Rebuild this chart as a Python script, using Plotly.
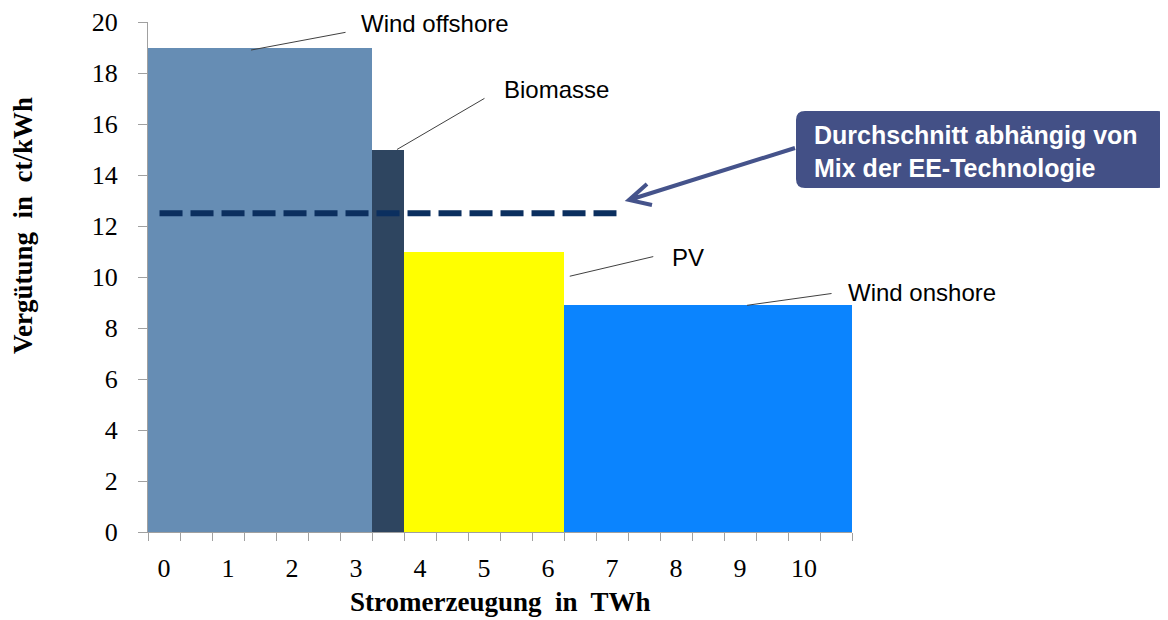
import plotly.graph_objects as go

# ---- data ----
technologies = ["Wind offshore", "Biomasse", "PV", "Wind onshore"]
generation_twh = [3.5, 0.5, 2.5, 4.5]        # bar widths (TWh)
payment_ct_kwh = [19, 15, 11, 8.9]           # bar heights (ct/kWh)
bar_colors = ["#668db4", "#2e4560", "#ffff00", "#0b84fe"]

average_value = 12.5
average_span = [0.18, 7.32]

x_tick_labels = [str(i) for i in range(11)]
y_ticks = list(range(0, 21, 2))

# ---- geometry derived from data ----
edges = [0.0]
for w in generation_twh:
    edges.append(edges[-1] + w)
centers = [(edges[i] + edges[i + 1]) / 2 for i in range(len(generation_twh))]

OFF = 8  # default page body margin
W, H = 1168 - OFF, 620 - OFF
ML, MR, MT, MB = 140, 316, 14, 88
PW, PH = W - ML - MR, H - MT - MB


def px(xp, yp):
    """screen pixel -> paper coordinates"""
    return (xp - OFF - ML) / PW, (H - MB - (yp - OFF)) / PH


fig = go.Figure()
fig.add_trace(go.Bar(
    x=centers, y=payment_ct_kwh, width=generation_twh,
    marker=dict(color=bar_colors, line=dict(width=0)),
    hovertext=technologies, showlegend=False,
))
fig.add_trace(go.Scatter(
    x=average_span, y=[average_value, average_value], mode="lines",
    line=dict(color="#0b2f5f", width=6, dash="23px,8px"), showlegend=False,
))

serif = "Liberation Serif, Times New Roman, serif"
sans = "Liberation Sans, Arial, sans-serif"

# leader lines + labels: (index, head x, head y, ax, ay, text dx, text dy)
label_specs = [
    (0, 1.61, 18.9, 96, -18, 108, -27),
    (1, 3.89, 15.0, 89, -52, 105, -60),
    (2, 6.59, 10.03, 85, -20, 100, -19),
    (3, 9.36, 8.89, 86, -12, 99, -13),
]
for idx, hx, hy, ax, ay, tdx, tdy in label_specs:
    fig.add_annotation(x=hx, y=hy, xref="x", yref="y", text="", showarrow=True,
                       arrowhead=0, arrowwidth=1, arrowcolor="#404040",
                       ax=ax, ay=ay)
    fig.add_annotation(x=hx, y=hy, xref="x", yref="y", text=technologies[idx],
                       showarrow=False, xanchor="left", yanchor="middle",
                       xshift=tdx, yshift=-tdy,
                       font=dict(family=sans, size=24, color="#000000"))

# callout box (rounded)
x0, y0 = px(796, 111)
x1, y1 = px(1167, 188)
rx, ry = 9 / PW, 9 / PH
path = (f"M {x0+rx},{y0} L {x1-rx},{y0} Q {x1},{y0} {x1},{y0-ry} "
        f"L {x1},{y1+ry} Q {x1},{y1} {x1-rx},{y1} L {x0+rx},{y1} "
        f"Q {x0},{y1} {x0},{y1+ry} L {x0},{y0-ry} Q {x0},{y0} {x0+rx},{y0} Z")
fig.add_shape(type="path", path=path, xref="paper", yref="paper",
              fillcolor="#435086", line=dict(width=0), layer="above")
tx, ty = px(812, 151.5)
fig.add_annotation(x=tx, y=ty, xref="paper", yref="paper",
                   text="Durchschnitt abhängig von<br>Mix der EE-Technologie",
                   showarrow=False, xanchor="left", yanchor="middle", align="left",
                   font=dict(family=sans, size=25, color="#ffffff", weight="bold"))

# arrow from callout to average line
ax0, ay0 = px(795, 148)
ax1, ay1 = px(629, 200)
c1x, c1y = px(647, 184)
c2x, c2y = px(652, 205)
arrow_path = f"M {ax0},{ay0} L {ax1},{ay1} M {c1x},{c1y} L {ax1},{ay1} L {c2x},{c2y}"
fig.add_shape(type="path", path=arrow_path, xref="paper", yref="paper",
              line=dict(color="#45538b", width=4))

# axis titles
xt, yt = px(500, 602)
fig.add_annotation(x=xt, y=yt, xref="paper", yref="paper",
                   text="Stromerzeugung  in  TWh", showarrow=False,
                   xanchor="center", yanchor="middle",
                   font=dict(family=serif, size=27, color="#000000", weight="bold"))
yx, yy = px(23, 226)
fig.add_annotation(x=yx, y=yy, xref="paper", yref="paper",
                   text="Vergütung  in  ct/kWh", showarrow=False, textangle=-90,
                   xanchor="center", yanchor="middle",
                   font=dict(family=serif, size=27, color="#000000", weight="bold"))

fig.update_layout(
    width=W, height=H,
    margin=dict(l=ML, r=MR, t=MT, b=MB, autoexpand=False),
    paper_bgcolor="white", plot_bgcolor="white",
    bargap=0,
    xaxis=dict(
        range=[0, 11], automargin=False,
        tickmode="array", tickvals=[i + 0.25 for i in range(11)], ticktext=x_tick_labels,
        ticks="", showgrid=False, zeroline=False,
        showline=True, linecolor="#a0a0a0", linewidth=1,
        minor=dict(tickmode="linear", tick0=0, dtick=0.5, ticks="outside",
                   ticklen=8, tickcolor="#a0a0a0", showgrid=False),
        tickfont=dict(family=serif, size=26, color="#000000"),
        ticklabelstandoff=13,
    ),
    yaxis=dict(
        range=[0, 20], tickvals=y_ticks, automargin=False,
        ticks="outside", ticklen=9, tickcolor="#a0a0a0",
        showgrid=False, zeroline=False,
        showline=True, linecolor="#a0a0a0", linewidth=1,
        tickfont=dict(family=serif, size=26, color="#000000"),
        ticklabelstandoff=15,
    ),
)

fig.write_html("out.html")
